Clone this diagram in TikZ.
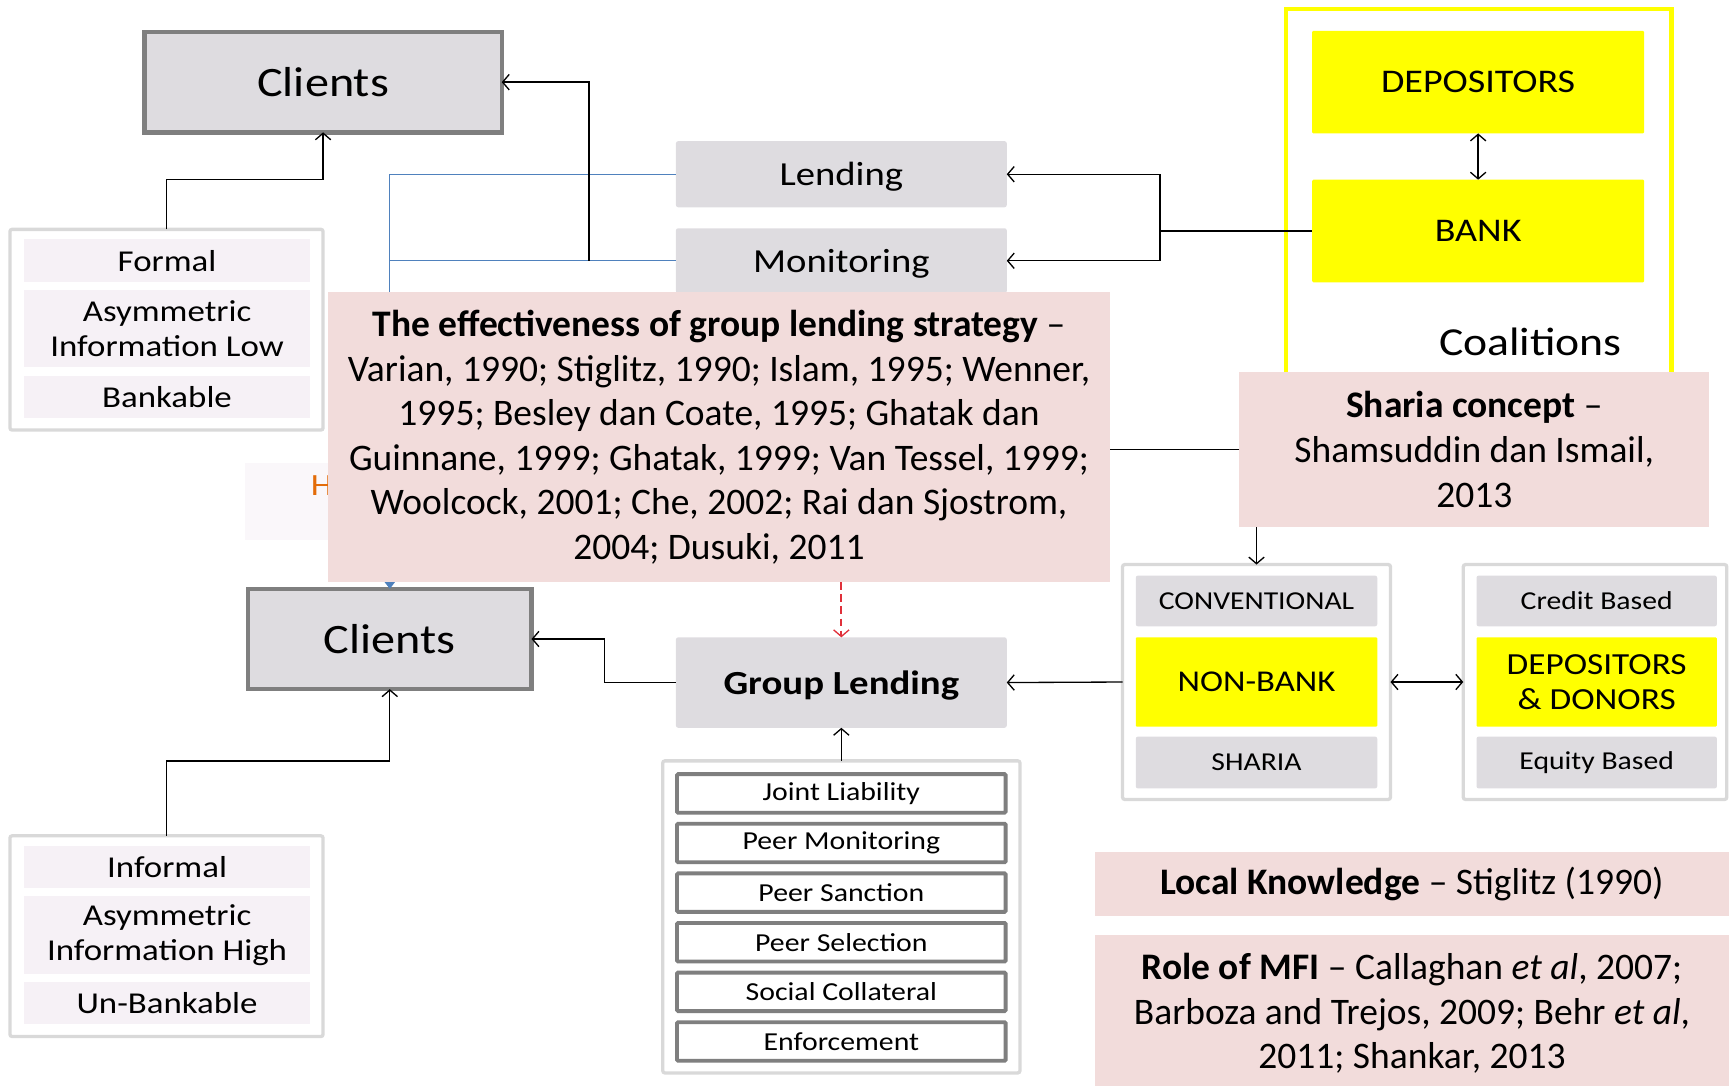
\documentclass[tikz,border=0pt]{standalone}
\usepackage{fontspec}
\setmainfont{Carlito}
\newfontfamily\widefont[FakeStretch=1.15]{Carlito}
\usetikzlibrary{arrows.meta}
\definecolor{boxgray}{HTML}{DEDCE0}
\definecolor{edgegray}{HTML}{7F7F7F}
\definecolor{framegray}{HTML}{D9D9D9}
\definecolor{rowpink}{HTML}{F6F1F6}
\definecolor{notepink}{HTML}{F2DCDB}
\definecolor{linkblue}{HTML}{4F81BD}
\definecolor{dashred}{HTML}{E0303A}
\definecolor{hiddenorange}{HTML}{E36C09}
\definecolor{coalyellow}{HTML}{FFFF00}
\newcommand{\fsz}[2]{\fontsize{#1}{#2}\selectfont}
\newcommand{\wsz}[2]{\widefont\fontsize{#1}{#2}\selectfont}
\tikzset{
  every node/.style={inner sep=0pt, outer sep=0pt, align=center, text=black},
  clientbox/.style={fill=boxgray, draw=edgegray, line width=4pt, font=\wsz{38}{46}},
  tagbox/.style={fill=boxgray, rounded corners=2pt, font=\wsz{30.5}{37}, text depth=0pt},
  framebox/.style={fill=white, draw=framegray, line width=3pt, rounded corners=2pt},
  rowbox/.style={fill=rowpink, font=\wsz{27.5}{32}},
  itembox/.style={fill=white, draw=edgegray, line width=3.5pt, rounded corners=1pt, font=\wsz{23.5}{27}},
  notebox/.style={fill=notepink, font=\fsz{34}{40.5}},
  yelbox/.style={fill=coalyellow, rounded corners=1pt},
  capbox/.style={fill=boxgray, rounded corners=2pt, font=\wsz{23.4}{28}},
  arr/.style={line width=1.2pt, -{Straight Barb[length=6pt,width=14pt,line width=1.2pt]}},
  dblarr/.style={line width=1.2pt, {Straight Barb[length=6pt,width=14pt,line width=1.2pt]}-{Straight Barb[length=6pt,width=14pt,line width=1.2pt]}},
  bluelink/.style={draw=linkblue, line width=1.2pt},
}
\begin{document}
\begin{tikzpicture}[x=1pt, y=-1pt]
\useasboundingbox (0,0) rectangle (1568,984);

% ---- formal side ----
\node[clientbox, minimum width=324, minimum height=91] (clientsTop) at (293,74.5) {Clients};
\node[framebox, minimum width=284, minimum height=182] (frameTop) at (151,299) {};
\node[rowbox, minimum width=259, minimum height=39] (formal) at (151.5,236.5) {Formal};
\node[rowbox, minimum width=259, minimum height=70] (asymLow) at (151.5,298) {Asymmetric\\Information Low};
\node[rowbox, minimum width=259, minimum height=38] (bankable) at (151.5,360) {Bankable};

% ---- coalition of depositors and bank ----
\node[draw=coalyellow, line width=4pt, fill=white, minimum width=350, minimum height=342] (coalition) at (1341,179) {};
\node[yelbox, minimum width=301, minimum height=93, font=\wsz{30}{36}] (depositors) at (1340.5,74.5) {DEPOSITORS};
\node[yelbox, minimum width=301, minimum height=93, font=\wsz{30}{36}] (bank) at (1340.5,209.5) {BANK};
\node[font=\wsz{36}{42}] (coaltext) at (1388,310) {Coalitions};
\node[notebox, minimum width=426, minimum height=141] (sharia) at (1337,407.5) {\textbf{Sharia concept} --\\Shamsuddin dan Ismail,\\2013};

% ---- services ----
\node[tagbox, minimum width=300, minimum height=60] (lending) at (763,158) {Lending};
\node[tagbox, minimum width=300, minimum height=59] (monitoring) at (763,236.5) {Monitoring};

% ---- informal side ----
\node[fill=rowpink!60, minimum width=180, minimum height=70] (hidden) at (312,455) {};
\node[font=\wsz{28}{34}, text=hiddenorange, anchor=west] (hiddentext) at (282,440) {H};
\node[clientbox, minimum width=257, minimum height=91] (clientsBot) at (353.5,579.5) {Clients};
\node[framebox, minimum width=284, minimum height=182] (frameBot) at (151,849) {};
\node[rowbox, minimum width=259, minimum height=38] (informal) at (151.5,786) {Informal};
\node[rowbox, minimum width=259, minimum height=70] (asymHigh) at (151.5,848) {Asymmetric\\Information High};
\node[rowbox, minimum width=259, minimum height=38] (unbank) at (151.5,910) {Un-Bankable};

% ---- links from the services to the clients ----
\coordinate (join) at (534,236.5);
\draw[bluelink, -{Triangle[length=6pt,width=9pt]}] (lending.west) -| (clientsBot.north);
\draw[bluelink] (monitoring.west) -- (monitoring.west -| clientsBot.north);
\draw[arr] (join) |- (clientsTop.east);

% ---- literature note ----
\node[notebox, minimum width=710, minimum height=263] (literature) at (652,396.5)
  {\textbf{The effectiveness of group lending strategy} --\\
   Varian, 1990; Stiglitz, 1990; Islam, 1995; Wenner,\\
   1995; Besley dan Coate, 1995; Ghatak dan\\
   Guinnane, 1999; Ghatak, 1999; Van Tessel, 1999;\\
   Woolcock, 2001; Che, 2002; Rai dan Sjostrom,\\
   2004; Dusuki, 2011};

% ---- group lending ----
\node[tagbox, minimum width=300, minimum height=82, font=\wsz{30.6}{37}\bfseries] (group) at (763,619) {Group Lending};
\node[framebox, minimum width=324, minimum height=283] (mechs) at (763,831.5) {};
\node[itembox, minimum width=298, minimum height=35] (m1) at (763,719.5) {Joint Liability};
\node[itembox, minimum width=298, minimum height=35] (m2) at (763,764.5) {Peer Monitoring};
\node[itembox, minimum width=298, minimum height=35] (m3) at (763,809.5) {Peer Sanction};
\node[itembox, minimum width=298, minimum height=35] (m4) at (763,854.5) {Peer Selection};
\node[itembox, minimum width=298, minimum height=35] (m5) at (763,899.5) {Social Collateral};
\node[itembox, minimum width=298, minimum height=35] (m6) at (763,944.5) {Enforcement};

% ---- non-bank institutions ----
\node[framebox, minimum width=243, minimum height=213] (nbframe) at (1139.5,618.5) {};
\node[capbox, minimum width=219, minimum height=46] (conv) at (1139.5,545) {CONVENTIONAL};
\node[yelbox, minimum width=219, minimum height=81, font=\wsz{27.4}{32}] (nonbank) at (1139.5,618.5) {NON-BANK};
\node[capbox, minimum width=219, minimum height=47] (shariaType) at (1139.5,691.5) {SHARIA};
\node[framebox, minimum width=239, minimum height=213] (fundframe) at (1446.5,618.5) {};
\node[capbox, minimum width=218, minimum height=46] (credit) at (1448,545) {Credit Based};
\node[yelbox, minimum width=218, minimum height=81, font=\wsz{27.8}{32}] (depdon) at (1448,618.5) {DEPOSITORS\\\& DONORS};
\node[capbox, minimum width=218, minimum height=47] (equity) at (1448,691.5) {Equity Based};

% ---- further notes ----
\node[notebox, minimum width=575, minimum height=58] (local) at (1280.5,802) {\textbf{Local Knowledge} -- Stiglitz (1990)};
\node[notebox, minimum width=575, minimum height=142] (mfi) at (1280.5,919)
  {\textbf{Role of MFI} -- Callaghan \textit{et al}, 2007;\\
   Barboza and Trejos, 2009; Behr \textit{et al},\\
   2011; Shankar, 2013};

% ---- connectors ----
\coordinate (split) at (1052,209.5);
\draw[line width=1.2pt] (bank.west) -- (split);
\draw[arr] (split) |- (lending.east);
\draw[arr] (split) |- (monitoring.east);
\draw[dblarr] (depositors.south) -- (bank.north);
\draw[arr] (frameTop.north) -- ++(0,-45) -| (clientsTop.south);
\draw[line width=1.2pt] (sharia.west) -- (sharia.west -| literature.east);
\draw[arr] (sharia.south -| nbframe.north) -- (nbframe.north);
\draw[arr] (nbframe.west) -- (group.east);
\draw[dblarr] (nbframe.east) -- (fundframe.west);
\draw[arr] (group.west) -- ++(-65,0) |- (clientsBot.east);
\draw[arr] (frameBot.north) -- ++(0,-68) -| (clientsBot.south);
\draw[arr] (mechs.north) -- (group.south);
\draw[arr, line width=1.6pt, draw=dashred, dash pattern=on 7pt off 4pt] (literature.south -| group.north) -- (group.north);
\end{tikzpicture}
\end{document}
